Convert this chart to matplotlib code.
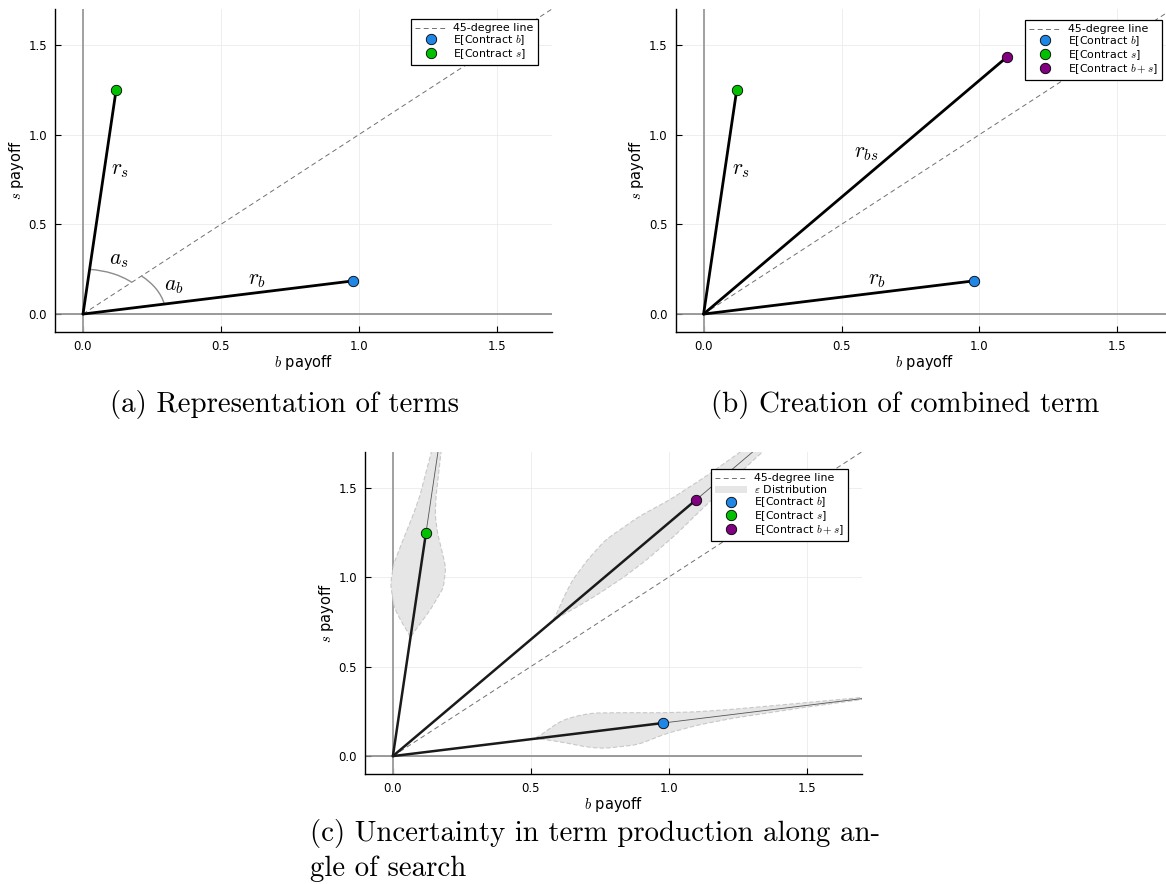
import numpy as np
import matplotlib
matplotlib.use("Agg")
import matplotlib.pyplot as plt
from matplotlib.patches import Arc, Patch
from matplotlib.lines import Line2D

plt.rcParams['mathtext.fontset'] = 'cm'
plt.rcParams['font.family'] = ['DejaVu Sans']
plt.rcParams['axes.unicode_minus'] = False

# Expected payoff vectors (b payoff, s payoff)
contract_b = (0.98, 0.185)
contract_s = (0.12, 1.248)
contract_bs = (contract_b[0] + contract_s[0], contract_b[1] + contract_s[1])

tick_values = [0.0, 0.5, 1.0, 1.5]
tick_labels = ["0.0", "0.5", "1.0", "1.5"]
axis_limits = (-0.1, 1.7)

# Spread of realised terms around each search ray:
# position along the ray (multiple of the expected term),
# half-width on the counter-clockwise side and on the clockwise side.
eps_b_t = [0.53, 0.58, 0.64, 0.70, 0.76, 0.886, 1.0, 1.12, 1.25, 1.5, 1.75]
eps_b_ccw = [0.0, 0.04, 0.082, 0.097, 0.102, 0.08, 0.058, 0.04, 0.029, 0.017, 0.006]
eps_b_cw = [0.0, 0.02, 0.048, 0.08, 0.10, 0.102, 0.06, 0.035, 0.021, 0.01, 0.004]

eps_s_t = [0.534, 0.60, 0.66, 0.76, 0.85, 0.93, 1.0, 1.08, 1.16, 1.40]
eps_s_ccw = [0.0, 0.042, 0.075, 0.10, 0.10, 0.085, 0.071, 0.055, 0.042, 0.02]
eps_s_cw = [0.0, 0.03, 0.057, 0.092, 0.09, 0.065, 0.042, 0.024, 0.017, 0.01]

eps_bs_t = [0.53, 0.60, 0.651, 0.72, 0.79, 0.888, 0.969, 1.067, 1.165, 1.26]
eps_bs_ccw = [0.0, 0.05, 0.082, 0.108, 0.124, 0.107, 0.075, 0.052, 0.036, 0.028]
eps_bs_cw = [0.0, 0.025, 0.04, 0.055, 0.062, 0.06, 0.05, 0.04, 0.03, 0.025]

BLUE = "#1f86e6"
GREEN = "#00c000"
PURPLE = "#800080"

W, H = 1166, 884
fig = plt.figure(figsize=(W / 100, H / 100), dpi=100)


def px_axes(left, right, top, bottom):
    return fig.add_axes([left / W, 1 - bottom / H, (right - left) / W, (bottom - top) / H])


def style_axes(ax):
    ax.set_xlim(*axis_limits)
    ax.set_ylim(*axis_limits)
    ax.set_xticks(tick_values)
    ax.set_xticklabels(tick_labels)
    ax.set_yticks(tick_values)
    ax.set_yticklabels(tick_labels)
    for side in ("top", "right"):
        ax.spines[side].set_visible(False)
    for side in ("left", "bottom"):
        ax.spines[side].set_linewidth(1.0)
    ax.tick_params(direction="in", length=4, width=0.8, labelsize=8.5, colors="black", pad=6)
    ax.grid(True, color="#ebebeb", linewidth=0.6)
    ax.set_axisbelow(True)
    ax.axhline(0, color="#8a8a8a", lw=1.2, zorder=1)
    ax.axvline(0, color="#a0a0a0", lw=1.4, zorder=1)
    ax.plot([0, 1.8], [0, 1.8], ls=(0, (5, 3.5)), color="#707070", lw=0.7, zorder=2,
            label="45-degree line")
    ax.set_xlabel(r"$b$ payoff", fontsize=10.5, labelpad=0)
    ax.set_ylabel(r"$s$ payoff", fontsize=10.5, labelpad=2)


def ray(ax, p, lw=2.0, color="black"):
    ax.plot([0, p[0]], [0, p[1]], color=color, lw=lw, solid_capstyle="round", zorder=4)


MS = 7.5


def dot(ax, p, color, label):
    ax.plot([p[0]], [p[1]], "o", ms=MS, mfc=color, mec="black", mew=0.6, zorder=6,
            label=label, linestyle="none")


def legend(ax, handles, labels, right, top):
    leg = ax.legend(handles, labels, loc="upper right", bbox_to_anchor=(right, top),
                    borderaxespad=0, fontsize=7.9, frameon=True, fancybox=False,
                    edgecolor="black", framealpha=1, handlelength=2.9,
                    labelspacing=0.0, borderpad=0.4, handletextpad=0.6)
    leg.get_frame().set_linewidth(0.9)
    leg.set_zorder(10)
    return leg


def label(ax, x, y, s):
    ax.text(x, y, s, fontsize=15.5, ha="center", va="center", zorder=7)


# ---------------- (a) Representation of terms ----------------
ax1 = px_axes(55.4, 552, 9, 332)
style_axes(ax1)
ray(ax1, contract_b)
ray(ax1, contract_s)
ang_b = np.degrees(np.arctan2(contract_b[1], contract_b[0]))
ang_s = np.degrees(np.arctan2(contract_s[1], contract_s[0]))
ax1.add_patch(Arc((0, 0), 0.5, 0.5, theta1=45, theta2=ang_s, color="#8c8c8c", lw=1.0, zorder=3))
ax1.add_patch(Arc((0, 0), 0.6, 0.6, theta1=ang_b, theta2=45, color="#8c8c8c", lw=1.0, zorder=3))
dot(ax1, contract_b, BLUE, r"E[Contract $b$]")
dot(ax1, contract_s, GREEN, r"E[Contract $s$]")
label(ax1, 0.13, 0.30, r"$a_s$")
label(ax1, 0.33, 0.155, r"$a_b$")
label(ax1, 0.63, 0.19, r"$r_b$")
label(ax1, 0.135, 0.80, r"$r_s$")
h, l = ax1.get_legend_handles_labels()
legend(ax1, h, l, 0.972, 0.969)

# ---------------- (b) Creation of combined term ----------------
ax2 = px_axes(676, 1172.6, 9, 332)
style_axes(ax2)
ray(ax2, contract_b)
ray(ax2, contract_s)
ray(ax2, contract_bs)
dot(ax2, contract_b, BLUE, r"E[Contract $b$]")
dot(ax2, contract_s, GREEN, r"E[Contract $s$]")
dot(ax2, contract_bs, PURPLE, r"E[Contract $b+s$]")
label(ax2, 0.59, 0.90, r"$r_{bs}$")
label(ax2, 0.135, 0.80, r"$r_s$")
label(ax2, 0.63, 0.19, r"$r_b$")
h, l = ax2.get_legend_handles_labels()
legend(ax2, h, l, 0.978, 0.966)

# ---------------- (c) Uncertainty along the angle of search ----------------
ax3 = px_axes(365.3, 862, 451.7, 774)
style_axes(ax3)


def spread(ax, p, t, w_ccw, w_cw):
    p = np.asarray(p, float)
    u = p / np.hypot(*p)
    n = np.array([-u[1], u[0]])
    tt = np.linspace(t[0], t[-1], 300)
    a = np.interp(tt, t, w_ccw)
    b = np.interp(tt, t, w_cw)
    k = np.ones(15) / 15
    a = np.convolve(np.pad(a, 7, mode="edge"), k, mode="valid")
    b = np.convolve(np.pad(b, 7, mode="edge"), k, mode="valid")
    a[0] = b[0] = 0
    c = tt[:, None] * p[None, :]
    up = c + a[:, None] * n[None, :]
    lo = c - b[:, None] * n[None, :]
    poly = np.vstack([up, lo[::-1]])
    ax.fill(poly[:, 0], poly[:, 1], facecolor="#e6e6e6", edgecolor="#c8c8c8",
            linestyle=(0, (4, 2)), lw=0.8, zorder=2.5)
    ax.plot([p[0], p[0] * 3], [p[1], p[1] * 3], color="#555555", lw=0.6, zorder=3)


spread(ax3, contract_b, eps_b_t, eps_b_ccw, eps_b_cw)
spread(ax3, contract_s, eps_s_t, eps_s_ccw, eps_s_cw)
spread(ax3, contract_bs, eps_bs_t, eps_bs_ccw, eps_bs_cw)
ray(ax3, contract_b, lw=1.8, color="#1a1a1a")
ray(ax3, contract_s, lw=1.8, color="#1a1a1a")
ray(ax3, contract_bs, lw=1.8, color="#1a1a1a")
dot(ax3, contract_b, BLUE, r"E[Contract $b$]")
dot(ax3, contract_s, GREEN, r"E[Contract $s$]")
dot(ax3, contract_bs, PURPLE, r"E[Contract $b+s$]")
h = [Line2D([], [], ls=(0, (5, 3.5)), color="#707070", lw=0.7),
     Patch(facecolor="#e6e6e6", edgecolor="none"),
     Line2D([], [], marker="o", ms=MS, mfc=BLUE, mec="black", mew=0.6, ls="none"),
     Line2D([], [], marker="o", ms=MS, mfc=GREEN, mec="black", mew=0.6, ls="none"),
     Line2D([], [], marker="o", ms=MS, mfc=PURPLE, mec="black", mew=0.6, ls="none")]
l = ["45-degree line", r"$\varepsilon$ Distribution", r"E[Contract $b$]",
     r"E[Contract $s$]", r"E[Contract $b+s$]"]
legend(ax3, h, l, 0.971, 0.946)

# ---------------- captions ----------------
cap = dict(family="cmr10", fontsize=20.8, color="black")
fig.text(285 / W, 1 - 405 / H, "(a) Representation of terms", ha="center", va="center", **cap)
fig.text(905 / W, 1 - 405 / H, "(b) Creation of combined term", ha="center", va="center", **cap)
fig.text(310 / W, 1 - 833 / H, "(c) Uncertainty in term production along an-", ha="left", va="center", **cap)
fig.text(310 / W, 1 - 869 / H, "gle of search", ha="left", va="center", **cap)

fig.savefig("out.png", dpi=100)
